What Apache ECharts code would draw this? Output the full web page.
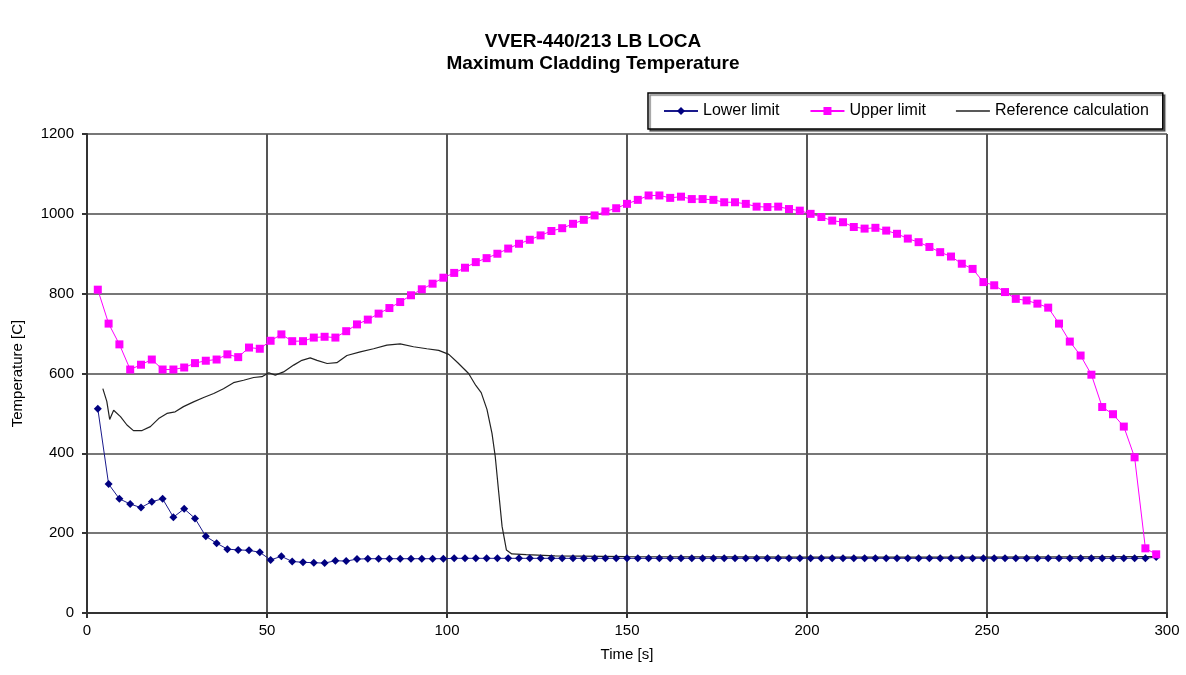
<!DOCTYPE html>
<html lang="en">
<head>
    <meta charset="UTF-8">
    <title>VVER-440/213 LB LOCA</title>
    <script src="https://cdn.jsdelivr.net/npm/echarts@6/dist/echarts.min.js"></script>
    <style>
        html, body { margin: 0; padding: 0; background: #fff; }
        #chart { width: 1186px; height: 675px; }
    </style>
</head>
<body>
<div id="chart"></div>
<script>
    // time points of the two limit curves [s]
    var time = [
        3, 6, 9, 12, 15, 18, 21, 24, 27, 30,
        33, 36, 39, 42, 45, 48, 51, 54, 57, 60,
        63, 66, 69, 72, 75, 78, 81, 84, 87, 90,
        93, 96, 99, 102, 105, 108, 111, 114, 117, 120,
        123, 126, 129, 132, 135, 138, 141, 144, 147, 150,
        153, 156, 159, 162, 165, 168, 171, 174, 177, 180,
        183, 186, 189, 192, 195, 198, 201, 204, 207, 210,
        213, 216, 219, 222, 225, 228, 231, 234, 237, 240,
        243, 246, 249, 252, 255, 258, 261, 264, 267, 270,
        273, 276, 279, 282, 285, 288, 291, 294, 297
    ]

    var lowerLimit = [
        512, 323, 286, 273, 264, 279, 286, 240, 261, 237,
        192, 175, 160, 158, 157, 152, 133, 142, 129, 127,
        126, 125, 131, 130, 135, 136, 136, 136, 136, 136,
        136, 136, 136, 137, 137, 137, 137, 137, 137, 137,
        137, 137, 137, 137, 137, 137, 137, 137, 137, 137,
        137, 137, 137, 137, 137, 137, 137, 137, 137, 137,
        137, 137, 137, 137, 137, 137, 137, 137, 137, 137,
        137, 137, 137, 137, 137, 137, 137, 137, 137, 137,
        137, 137, 137, 137, 137, 137, 137, 137, 137, 137,
        137, 137, 137, 137, 137, 137, 137, 137, 140
    ]

    var upperLimit = [
        810, 725, 673, 610, 622, 635, 610, 610, 615, 626,
        632, 635, 648, 641, 665, 662, 682, 698, 681, 681,
        690, 692, 690, 706, 723, 735, 750, 764, 779, 796,
        811, 825, 840, 852, 865, 879, 889, 900, 913, 925,
        935, 946, 957, 964, 975, 985, 996, 1006, 1014, 1025,
        1035, 1046, 1046, 1040, 1043, 1037, 1037, 1035, 1029, 1029,
        1025, 1018, 1017, 1018, 1012, 1008, 1000, 992, 983, 979,
        967, 963, 965, 958, 950, 938, 929, 917, 904, 893,
        875, 862, 829, 821, 804, 787, 783, 775, 765, 725,
        680, 645, 597, 516, 498, 467, 390, 162, 147
    ]

    // reference calculation
    var refTime = [
        4.4, 5.5, 6.3, 7.4, 9.3, 11.1, 12.9, 15.3, 17.6, 19.9,
        22.2, 24.5, 26.8, 29.6, 32.4, 35.2, 37.9, 40.7, 43.5, 46.3,
        48.6, 50.5, 52.3, 54.6, 57.4, 59.7, 62, 63.9, 66.7, 69.4,
        72.2, 75.9, 79.6, 83.3, 87, 90.7, 94.4, 97.7, 100.5, 103,
        106, 108, 109.5, 111.1, 112.5, 113.4, 114.3, 115.3, 116.5, 118,
        122, 130, 150, 200, 250, 298
    ]
    var refTemp = [
        562, 530, 485, 508, 492, 471, 457, 457, 467, 487,
        500, 504, 517, 529, 540, 550, 562, 577, 583, 590,
        592, 602, 596, 604, 621, 633, 639, 633, 625, 627,
        645, 654, 662, 671, 674, 667, 662, 658, 648, 627,
        600, 570, 552, 510, 450, 392, 308, 217, 158, 148,
        146, 143, 141, 140, 140, 141
    ]

    var font = '"Liberation Sans", Arial, sans-serif'

    function pairs(xs, ys) {
        var out = []
        for (var i = 0; i < xs.length; i++) out.push([xs[i], ys[i]])
        return out
    }

    var chart = echarts.init(document.getElementById('chart'), null, {renderer: 'canvas'})
    var option = {
        animation: false,
        backgroundColor: '#fff',
        textStyle: {fontFamily: font, color: '#000'},
        title: {
            text: 'VVER-440/213 LB LOCA\nMaximum Cladding Temperature',
            left: 'center',
            top: 26,
            textStyle: {fontFamily: font, fontSize: 19, fontWeight: 'bold', color: '#000', lineHeight: 22}
        },
        legend: {
            left: 648,
            top: 93,
            itemGap: 30,
            itemWidth: 34,
            itemHeight: 10,
            padding: [10, 14, 10, 15],
            borderColor: '#000',
            borderWidth: 1.5,
            shadowColor: 'rgba(0,0,0,0.5)',
            shadowBlur: 1,
            shadowOffsetX: 2,
            shadowOffsetY: 2,
            backgroundColor: '#fff',
            textStyle: {fontFamily: font, fontSize: 16, color: '#000'},
            data: [
                'Lower limit',
                'Upper limit',
                {name: 'Reference calculation', icon: 'path://M0,0 L34,0 L34,1.4 L0,1.4 Z'}
            ]
        },
        grid: {left: 87, right: 19, top: 134, bottom: 62},
        xAxis: {
            type: 'value',
            min: 0,
            max: 300,
            interval: 50,
            name: 'Time [s]',
            nameLocation: 'middle',
            nameGap: 34,
            nameTextStyle: {fontFamily: font, fontSize: 15, color: '#000'},
            axisLine: {lineStyle: {color: '#333', width: 2}},
            axisTick: {show: true, length: 5, lineStyle: {color: '#333', width: 2}},
            axisLabel: {fontFamily: font, fontSize: 15, color: '#000', margin: 10},
            splitLine: {show: true, lineStyle: {color: '#555', width: 2}}
        },
        yAxis: {
            type: 'value',
            min: 0,
            max: 1200,
            interval: 200,
            name: 'Temperature [C]',
            nameLocation: 'middle',
            nameGap: 62,
            nameRotate: 90,
            nameTextStyle: {fontFamily: font, fontSize: 15, color: '#000'},
            axisLine: {show: true, lineStyle: {color: '#333', width: 2}},
            axisTick: {show: true, length: 5, lineStyle: {color: '#333', width: 2}},
            axisLabel: {
                fontFamily: font, fontSize: 15, color: '#000', margin: 13,
                formatter: function (v) { return String(v) }
            },
            splitLine: {show: true, lineStyle: {color: '#777', width: 2}}
        },
        series: [
            {
                name: 'Lower limit',
                type: 'line',
                data: pairs(time, lowerLimit),
                symbol: 'diamond',
                symbolSize: 8,
                color: '#000080',
                lineStyle: {color: '#1a1a8c', width: 1},
                itemStyle: {color: '#000080'},
                z: 3
            },
            {
                name: 'Upper limit',
                type: 'line',
                data: pairs(time, upperLimit),
                symbol: 'rect',
                symbolSize: 8,
                color: '#ff00ff',
                lineStyle: {color: '#ff00ff', width: 1},
                itemStyle: {color: '#ff00ff'},
                z: 4
            },
            {
                name: 'Reference calculation',
                type: 'line',
                data: pairs(refTime, refTemp),
                symbol: 'none',
                color: '#222',
                lineStyle: {color: '#222', width: 1.2},
                z: 2
            }
        ]
    }
    chart.setOption(option)
</script>
</body>
</html>
